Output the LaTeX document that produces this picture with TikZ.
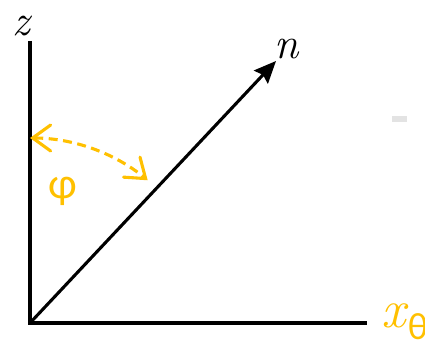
\documentclass[tikz,border=0pt]{standalone}
\usepackage{fontspec}
\newfontfamily\grk{Carlito}
\usetikzlibrary{arrows.meta}
\definecolor{gold}{HTML}{FFC000}
\begin{document}
\begin{tikzpicture}[x=1pt,y=1pt,
  axis/.style={line width=3.1pt},
  anglearc/.style={gold,line width=3.1pt,dash pattern=on 9pt off 5.5pt,
    {Straight Barb[length=18pt,width=26pt,line cap=round]}-{Straight Barb[length=18pt,width=26pt,line cap=round]}},
  lbl/.style={inner sep=0pt,anchor=center}]
\useasboundingbox (0,0) rectangle (425,343);
\coordinate (O) at (30,20);
\coordinate (ztop) at (30,302);
\coordinate (xend) at (367,20);
\coordinate (ntip) at (276,282);
\coordinate (arcstart) at ([shift={(90:185)}]O);
\draw[axis] (ztop) -- (O) -- (xend);
\draw[axis,-{Stealth[length=22pt,width=19pt,inset=3pt]}] (O) -- (ntip);
\draw[anglearc] (arcstart) arc[start angle=90,end angle=50.5,radius=185];
\node[lbl] (zl) at (21.5,317) {\fontsize{44}{44}\selectfont\itshape z};
\node[lbl] (nl) at (287,294) {\fontsize{44}{44}\selectfont\itshape n};
\node[lbl,text=gold] (phil) at (63,152) {\fontsize{44}{44}\selectfont\grk φ};
\node[lbl,text=gold] (xl) at (394,27) {\fontsize{54}{54}\selectfont\itshape x};
\node[lbl,text=gold] (thl) at (418,16) {\fontsize{38}{38}\selectfont\grk θ};
\fill[gray!22] (392,221) rectangle (407,227);
\end{tikzpicture}
\end{document}
